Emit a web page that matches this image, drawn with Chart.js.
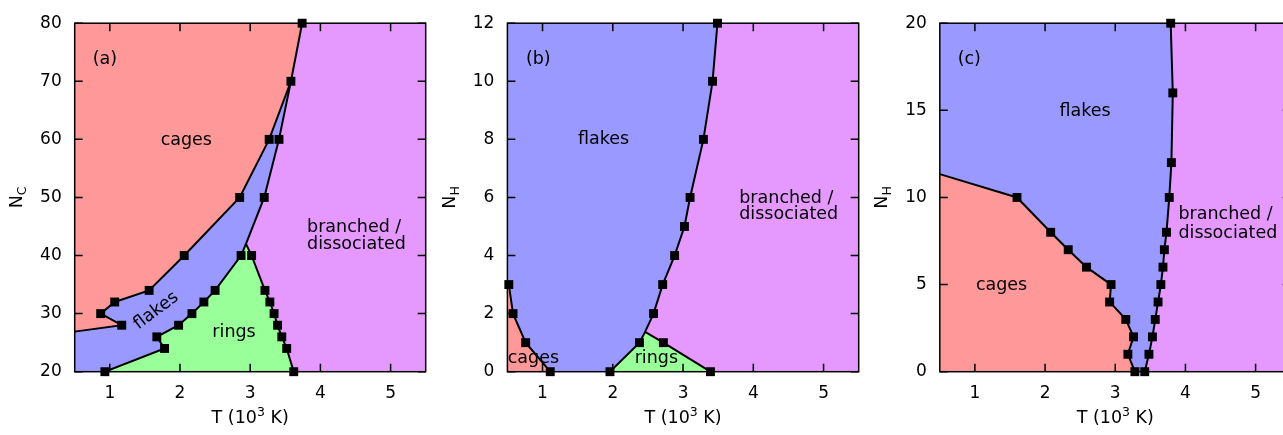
<!DOCTYPE html>
<html>
<head>
<meta charset="utf-8">
<script src="https://cdn.jsdelivr.net/npm/chart.js@4"></script>
<style>
  html, body { margin: 0; padding: 0; background: #fff; overflow: hidden; }
  body { width: 1283px; height: 435px; position: relative; }
  canvas { position: absolute; top: 0; }
</style>
</head>
<body>
<canvas id="chartA" width="432" height="435" style="left:0px"></canvas>
<canvas id="chartB" width="432" height="435" style="left:433px"></canvas>
<canvas id="chartC" width="432" height="435" style="left:865px"></canvas>
<script>
// temperature axis (10^3 K), shared by all panels
const tempTicks = [1, 2, 3, 4, 5];

// (a) N_C against T
const aCageT = [1.17, 0.87, 1.07, 1.56, 2.06, 2.85, 3.27, 3.58, 3.74];
const aCageN = [28, 30, 32, 34, 40, 50, 60, 70, 80];
const aCageEdgeN = 26.9;          // cage line where it meets the left axis
const aRingLeftT = [0.93, 1.78, 1.67, 1.98, 2.17, 2.34, 2.50, 2.87];
const aRingLeftN = [20, 24, 26, 28, 30, 32, 34, 40];
const aRingRightT = [3.02, 3.21, 3.28, 3.34, 3.39, 3.45, 3.52, 3.62];
const aRingRightN = [40, 34, 32, 30, 28, 26, 24, 20];
const aFlakeEdgeT = [3.20, 3.41];
const aFlakeEdgeN = [50, 60];
const aTriple = [2.94, 42];
const aTicksN = [20, 30, 40, 50, 60, 70, 80];

// (b) N_H against T
const bCageT = [0.52, 0.58, 0.76, 1.11];
const bCageN = [3, 2, 1, 0];
const bFlakeEdgeT = [2.58, 2.71, 2.88, 3.02, 3.10, 3.29, 3.42, 3.49];
const bFlakeEdgeN = [2, 3, 4, 5, 6, 8, 10, 12];
const bRingLeftT = [1.96, 2.38];
const bRingLeftN = [0, 1];
const bRingRightT = [2.72, 3.39];
const bRingRightN = [1, 0];
const bTriple = [2.46, 1.37];
const bTicksN = [0, 2, 4, 6, 8, 10, 12];

// (c) N_H against T
const cCageT = [1.60, 2.08, 2.33, 2.59, 2.94, 2.92, 3.15, 3.26, 3.18, 3.28];
const cCageN = [10, 8, 7, 6, 5, 4, 3, 2, 1, 0];
const cCageEdgeN = 11.34;
const cFlakeEdgeT = [3.42, 3.48, 3.53, 3.57, 3.61, 3.65, 3.68, 3.70, 3.73, 3.77, 3.80, 3.82, 3.79];
const cFlakeEdgeN = [0, 1, 2, 3, 4, 5, 6, 7, 8, 10, 12, 16, 20];
const cTicksN = [0, 5, 10, 15, 20];

const CAGES = '#ff9999', FLAKES = '#9999ff', RINGS = '#99ff99', BRANCHED = '#e599ff';
const FONT = '"DejaVu Sans", sans-serif';
const T_MIN = 0.5, T_MAX = 5.5;

const zip = (T, N) => T.map((t, i) => ({x: t, y: N[i]}));
const pt = p => ({x: p[0], y: p[1]});
const rev = a => a.slice().reverse();
const box = (y0, y1) => [{x: T_MIN, y: y0}, {x: T_MAX, y: y0}, {x: T_MAX, y: y1}, {x: T_MIN, y: y1}];

function region(points, color, order) {
    return {data: points, fill: 'shape', backgroundColor: color, borderColor: 'transparent',
        borderWidth: 0, pointRadius: 0, order: order};
}
function boundary(points) {
    return {data: points, fill: false, borderColor: '#000', borderWidth: 2, pointRadius: 0, order: 1};
}
function markers(points) {
    return {data: points, showLine: false, fill: false, pointStyle: 'rect', pointRadius: 6.3,
        pointBackgroundColor: '#000', pointBorderWidth: 0, clip: false, order: 0};
}

// frame, inward ticks, axis titles and region names
const framePlugin = {
    id: 'frame',
    afterDatasetsDraw(chart, args, opts) {
        const {ctx, chartArea: a, scales: {x, y}} = chart;
        ctx.save();
        ctx.strokeStyle = '#000';
        ctx.lineWidth = 1.5;
        ctx.beginPath();
        x.ticks.forEach(t => {
            const px = x.getPixelForValue(t.value);
            ctx.moveTo(px, a.bottom); ctx.lineTo(px, a.bottom - 8);
            ctx.moveTo(px, a.top); ctx.lineTo(px, a.top + 8);
        });
        y.ticks.forEach(t => {
            const py = y.getPixelForValue(t.value);
            ctx.moveTo(a.left, py); ctx.lineTo(a.left + 8, py);
            ctx.moveTo(a.right, py); ctx.lineTo(a.right - 8, py);
        });
        ctx.stroke();
        ctx.strokeRect(a.left, a.top, a.right - a.left, a.bottom - a.top);

        ctx.fillStyle = '#000';
        ctx.textBaseline = 'middle';
        ctx.font = '17.5px ' + FONT;
        opts.labels.forEach(l => {
            ctx.save();
            ctx.translate(x.getPixelForValue(l.x), y.getPixelForValue(l.y));
            if (l.rot) ctx.rotate(l.rot * Math.PI / 180);
            ctx.textAlign = l.align || 'center';
            ctx.fillText(l.text, 0, 0);
            ctx.restore();
        });

        // y title: N with subscript
        ctx.save();
        ctx.translate(a.left - 57, (a.top + a.bottom) / 2);
        ctx.rotate(-Math.PI / 2);
        ctx.textAlign = 'left';
        ctx.font = '17.5px ' + FONT;
        const wN = ctx.measureText('N').width;
        ctx.font = '12.5px ' + FONT;
        const wS = ctx.measureText(opts.sub).width;
        const x0 = -(wN + wS) / 2;
        ctx.font = '17.5px ' + FONT;
        ctx.fillText('N', x0, 0);
        ctx.font = '12.5px ' + FONT;
        ctx.fillText(opts.sub, x0 + wN, 5);
        ctx.restore();

        // x title: T (10^3 K)
        ctx.textBaseline = 'alphabetic';
        ctx.textAlign = 'left';
        const parts = [['T (10', 17.5, 0], ['3', 12.5, -7], [' K)', 17.5, 0]];
        let total = 0;
        parts.forEach(p => { ctx.font = p[1] + 'px ' + FONT; total += ctx.measureText(p[0]).width; });
        let cx = (a.left + a.right) / 2 - total / 2;
        parts.forEach(p => {
            ctx.font = p[1] + 'px ' + FONT;
            ctx.fillText(p[0], cx, a.bottom + 51.5 + p[2]);
            cx += ctx.measureText(p[0]).width;
        });
        ctx.restore();
    }
};

function makePanel(id, yMin, yMax, yTicks, axisWidth, padRight, sub, datasets, labels) {
    return new Chart(document.getElementById(id), {
        type: 'line',
        data: {datasets: datasets},
        options: {
            responsive: false,
            animation: false,
            events: [],
            layout: {padding: {top: 20, right: padRight, left: 0, bottom: 0}},
            plugins: {
                legend: {display: false},
                tooltip: {enabled: false},
                frame: {sub: sub, labels: labels}
            },
            scales: {
                x: {
                    type: 'linear', min: T_MIN, max: T_MAX,
                    grid: {display: false, drawTicks: false},
                    border: {display: false},
                    afterBuildTicks: s => { s.ticks = tempTicks.map(v => ({value: v})); },
                    afterFit: s => { s.height = 63.3; },
                    ticks: {color: '#000', padding: 12, font: {family: FONT, size: 17}}
                },
                y: {
                    type: 'linear', min: yMin, max: yMax,
                    grid: {display: false, drawTicks: false},
                    border: {display: false},
                    afterBuildTicks: s => { s.ticks = yTicks.map(v => ({value: v})); },
                    afterFit: s => { s.width = axisWidth; },
                    ticks: {color: '#000', padding: 13, font: {family: FONT, size: 17}}
                }
            }
        },
        plugins: [framePlugin]
    });
}

// ---- panel (a)
const aCage = zip(aCageT, aCageN);
const aCageLine = [{x: T_MIN, y: aCageEdgeN}, ...aCage];
const aRingLeft = zip(aRingLeftT, aRingLeftN);
const aRingRight = zip(aRingRightT, aRingRightN);
const aFlakeEdge = zip(aFlakeEdgeT, aFlakeEdgeN);
const aTrip = pt(aTriple);
const aJoin = aCage[aCageN.indexOf(70)];

makePanel('chartA', 20, 80, aTicksN, 74.7, 4.3, 'C', [
    markers([...aCage, ...aRingLeft, ...aFlakeEdge, ...aRingRight]),
    boundary(aCageLine),
    boundary([...aRingLeft, aTrip, ...aFlakeEdge, aJoin]),
    boundary([aTrip, ...aRingRight]),
    region([...aRingLeft, aTrip, ...aRingRight], RINGS, 2),
    region([{x: T_MIN, y: 20}, ...aCageLine.slice(0, aCageLine.indexOf(aJoin) + 1),
        ...rev(aFlakeEdge), aTrip, ...rev(aRingLeft)], FLAKES, 3),
    region([{x: T_MIN, y: 80}, ...aCageLine], CAGES, 4),
    region(box(20, 80), BRANCHED, 5)
], [
    {text: '(a)', x: 0.93, y: 73.7},
    {text: 'cages', x: 2.09, y: 59.8},
    {text: 'flakes', x: 1.66, y: 30.5, rot: -37},
    {text: 'rings', x: 2.77, y: 26.8},
    {text: 'branched /', x: 3.81, y: 44.8, align: 'left'},
    {text: 'dissociated', x: 3.81, y: 41.9, align: 'left'}
]);

// ---- panel (b)
const bCage = zip(bCageT, bCageN);
const bFlakeEdge = zip(bFlakeEdgeT, bFlakeEdgeN);
const bRingLeft = zip(bRingLeftT, bRingLeftN);
const bRingRight = zip(bRingRightT, bRingRightN);
const bTrip = pt(bTriple);

makePanel('chartB', 0, 12, bTicksN, 74.4, 5, 'H', [
    markers([...bCage, ...bFlakeEdge, ...bRingLeft, ...bRingRight]),
    boundary(bCage),
    boundary([...bRingLeft, bTrip, ...bFlakeEdge]),
    boundary([bTrip, ...bRingRight]),
    region([...bRingLeft, bTrip, ...bRingRight], RINGS, 2),
    region([{x: T_MIN, y: 0}, {x: T_MIN, y: bCageN[0]}, ...bCage], CAGES, 3),
    region([{x: T_MIN, y: 0}, {x: T_MIN, y: 12}, ...rev(bFlakeEdge), bTrip, ...rev(bRingLeft)], FLAKES, 4),
    region(box(0, 12), BRANCHED, 5)
], [
    {text: '(b)', x: 0.94, y: 10.75},
    {text: 'flakes', x: 1.87, y: 7.98},
    {text: 'cages', x: 0.87, y: 0.46},
    {text: 'rings', x: 2.62, y: 0.46},
    {text: 'branched /', x: 3.80, y: 5.97, align: 'left'},
    {text: 'dissociated', x: 3.80, y: 5.40, align: 'left'}
]);

// ---- panel (c)
const cCage = zip(cCageT, cCageN);
const cCageLine = [{x: T_MIN, y: cCageEdgeN}, ...cCage];
const cFlakeEdge = zip(cFlakeEdgeT, cFlakeEdgeN);

makePanel('chartC', 0, 20, cTicksN, 74.8, 5, 'H', [
    markers([...cCage, ...cFlakeEdge]),
    boundary(cCageLine),
    boundary(cFlakeEdge),
    region([{x: T_MIN, y: 0}, ...cCageLine], CAGES, 2),
    region([{x: T_MIN, y: 20}, ...cCageLine, ...cFlakeEdge], FLAKES, 3),
    region(box(0, 20), BRANCHED, 5)
], [
    {text: '(c)', x: 0.92, y: 17.9},
    {text: 'flakes', x: 2.57, y: 14.94},
    {text: 'cages', x: 1.38, y: 4.93},
    {text: 'branched /', x: 3.90, y: 9.01, align: 'left'},
    {text: 'dissociated', x: 3.90, y: 7.96, align: 'left'}
]);
</script>
</body>
</html>
